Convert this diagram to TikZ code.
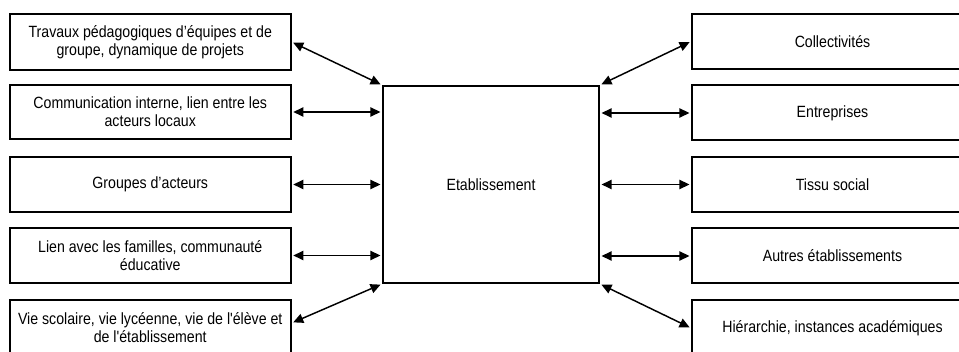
\documentclass[tikz,border=0pt]{standalone}
\usepackage{fontspec}
\newfontfamily\boxfont{Liberation Sans}[FakeStretch=0.87, Ligatures=TeXOff]
\usetikzlibrary{arrows, arrows.meta}
\usetikzlibrary{calc}

\begin{document}
\begin{tikzpicture}[x=0.75pt, y=-0.75pt,
    box/.style={rectangle, draw, line width=1.5pt, inner sep=1pt, align=center,
      minimum width=210.75pt, minimum height=41.25pt,
      font=\boxfont\fontsize{12.2}{13.5}\selectfont},
    link/.style={line width=1.1pt, {Triangle[length=7.5pt, width=7pt]}-{Triangle[length=7.5pt, width=7pt]},
      shorten <=1.2pt, shorten >=1.2pt}]
      \useasboundingbox (0,0) rectangle (959,352);
      \clip (0,0) rectangle (959,352);

      \node[box, minimum width=162pt, minimum height=147.75pt] (etab) at (491,184.5) {Etablissement};

      \node[box, minimum height=42pt] (l1) at (150.25,42) {Travaux pédagogiques d’équipes et de\\groupe, dynamique de projets};
      \node[box, minimum height=40.5pt] (l2) at (150.25,112) {Communication interne, lien entre les\\acteurs locaux};
      \node[box] (l3) at (150.25,184.5) {Groupes d’acteurs};
      \node[box] (l4) at (150.25,255.5) {Lien avec les familles, communauté\\éducative};
      \node[box] (l5) at (150.25,328) {Vie scolaire, vie lycéenne, vie de l'élève et\\de l'établissement};

      \node[box] (r1) at (832.5,41.5) {Collectivités};
      \node[box] (r2) at (832.5,113) {Entreprises};
      \node[box] (r3) at (832.5,184.5) {Tissu social};
      \node[box] (r4) at (832.5,256) {Autres établissements};
      \node[box] (r5) at (832.5,328) {Hiérarchie, instances académiques};

      \draw[link] (l1.east) -- (etab.north west);
      \draw[link] (l2.east) -- (l2.east -| etab.west);
      \draw[link] (l3.east) -- (l3.east -| etab.west);
      \draw[link] (l4.east) -- (l4.east -| etab.west);
      \draw[link] ([yshift=3.75pt]l5.east) -- (etab.south west);

      \draw[link] (etab.north east) -- (r1.west);
      \draw[link] (r2.west -| etab.east) -- (r2.west);
      \draw[link] (r3.west -| etab.east) -- (r3.west);
      \draw[link] (r4.west -| etab.east) -- (r4.west);
      \draw[link] (etab.south east) -- (r5.west);
\end{tikzpicture}
\end{document}
